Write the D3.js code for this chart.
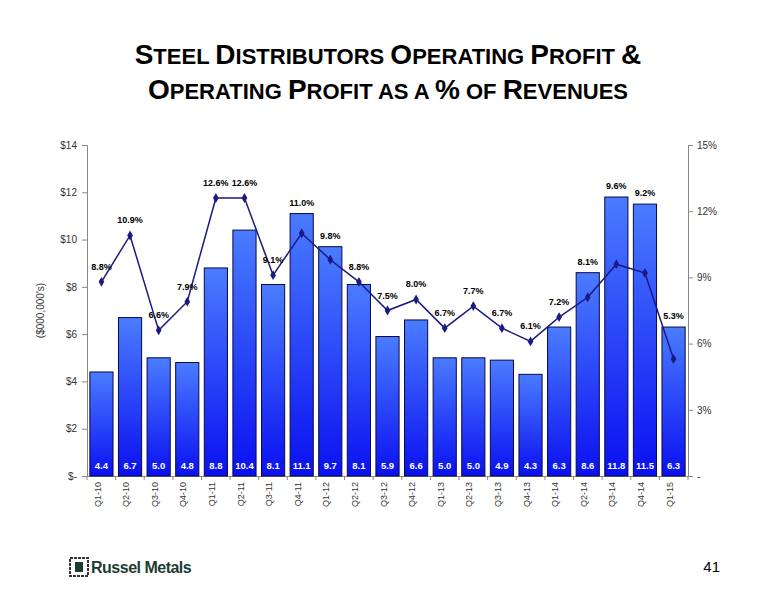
<!DOCTYPE html>
<html><head><meta charset="utf-8">
<script src="https://cdn.jsdelivr.net/npm/d3@7"></script>
<style>body{margin:0;background:#fff}</style>
</head><body><svg id="c" width="776" height="600"></svg>
<script>
const quarters = ["Q1-10","Q2-10","Q3-10","Q4-10","Q1-11","Q2-11","Q3-11","Q4-11","Q1-12","Q2-12","Q3-12","Q4-12","Q1-13","Q2-13","Q3-13","Q4-13","Q1-14","Q2-14","Q3-14","Q4-14","Q1-15"];
const profit = [4.4,6.7,5.0,4.8,8.8,10.4,8.1,11.1,9.7,8.1,5.9,6.6,5.0,5.0,4.9,4.3,6.3,8.6,11.8,11.5,6.3];
const margin = [8.8,10.9,6.6,7.9,12.6,12.6,9.1,11.0,9.8,8.8,7.5,8.0,6.7,7.7,6.7,6.1,7.2,8.1,9.6,9.2,5.3];
const leftTicks = [0,2,4,6,8,10,12,14];
const rightTicks = [0,3,6,9,12,15];

const svg = d3.select("#c");
const L = 87, R = 688, T = 145, B = 476;
const fnt = "Arial, Liberation Sans, sans-serif";

// title
const title = svg.append("g").attr("font-family",fnt).attr("font-weight","bold").attr("fill","#000").attr("text-anchor","middle");
function smallCaps(y, parts) {
  const t = title.append("text").attr("x", 388).attr("y", y);
  parts.forEach(p => t.append("tspan").attr("font-size", p[1] ? 28 : 22).text(p[0]));
}
smallCaps(64, [["S",1],["TEEL ",0],["D",1],["ISTRIBUTORS ",0],["O",1],["PERATING ",0],["P",1],["ROFIT ",0],["&",1]]);
smallCaps(99, [["O",1],["PERATING ",0],["P",1],["ROFIT AS A ",0],["%",1],[" OF ",0],["R",1],["EVENUES",0]]);

const x = d3.scaleBand().domain(quarters).range([L, R]).paddingInner(0.19).paddingOuter(0.1);
const y = d3.scaleLinear().domain([0, 14]).range([B, T]);
const y2 = d3.scaleLinear().domain([0, 15]).range([B, T]);

const defs = svg.append("defs");
const g = defs.append("linearGradient").attr("id","bg").attr("x1",0).attr("y1",0).attr("x2",0).attr("y2",1);
g.append("stop").attr("offset","0%").attr("stop-color","#4a7cff");
g.append("stop").attr("offset","100%").attr("stop-color","#0a10f0");

// axes
const ax = svg.append("g").attr("transform",`translate(${L},0)`)
  .call(d3.axisLeft(y).tickValues(leftTicks).tickSize(5).tickFormat(d => d === 0 ? "$-" : "$" + d));
const ax2 = svg.append("g").attr("transform",`translate(${R},0)`)
  .call(d3.axisRight(y2).tickValues(rightTicks).tickSize(5).tickFormat(d => d === 0 ? "-" : d + "%"));
const axb = svg.append("g").attr("transform",`translate(0,${B})`)
  .call(d3.axisBottom(x).tickSize(0).tickFormat(d => d));
[ax, ax2].forEach(a => {
  a.selectAll("path,line").attr("stroke","#888");
  a.selectAll("text").attr("font-family",fnt).attr("font-size",10).attr("fill","#333");
});
ax.selectAll("text").attr("x",-10);
ax2.selectAll("text").attr("x",9);
axb.select("path").attr("stroke","#888");
axb.selectAll("text").attr("font-family",fnt).attr("font-size",9).attr("fill","#333")
  .attr("transform","rotate(-90)").attr("text-anchor","end").attr("x",-6).attr("y",-4).attr("dy","0.35em");
svg.append("g").selectAll("line").data(d3.range(quarters.length + 1)).join("line")
  .attr("x1", i => L + i * (R - L) / quarters.length).attr("x2", i => L + i * (R - L) / quarters.length)
  .attr("y1", B).attr("y2", B + 4).attr("stroke","#888");

svg.append("text").attr("transform",`translate(44,${(T+B)/2}) rotate(-90)`).attr("text-anchor","middle")
  .attr("font-family",fnt).attr("font-size",10).attr("fill","#333").text("($000,000's)");

// bars
svg.append("g").selectAll("rect").data(profit).join("rect")
  .attr("x",(d,i)=>x(quarters[i])).attr("width",x.bandwidth())
  .attr("y",d=>y(d)).attr("height",d=>B-y(d))
  .attr("fill","url(#bg)").attr("stroke","#0a0a40").attr("stroke-width",1);
svg.append("g").selectAll("text").data(profit).join("text")
  .attr("x",(d,i)=>x(quarters[i])+x.bandwidth()/2).attr("y",B-7).attr("text-anchor","middle")
  .attr("font-family",fnt).attr("font-size",9.5).attr("font-weight","bold").attr("fill","#fff")
  .text(d=>d.toFixed(1));

// line
const cx = i => x(quarters[i]) + x.bandwidth()/2;
svg.append("path").datum(margin)
  .attr("d", d3.line().x((d,i)=>cx(i)).y(d=>y2(d)))
  .attr("fill","none").attr("stroke","#1a1a80").attr("stroke-width",1.5);
svg.append("g").selectAll("path").data(margin).join("path")
  .attr("d", d3.symbol(d3.symbolDiamond, 28))
  .attr("transform",(d,i)=>`translate(${cx(i)},${y2(d)})`).attr("fill","#1a1a80");
svg.append("g").selectAll("text").data(margin).join("text")
  .attr("x",(d,i)=>cx(i)).attr("y",(d,i)=>{
    const ly = y2(d) - 12, by = y(profit[i]);
    return by < y2(d) + 4 ? Math.min(ly, by - 8) : ly;
  }).attr("text-anchor","middle")
  .attr("font-family",fnt).attr("font-size",9).attr("font-weight","bold").attr("fill","#000")
  .text(d=>d.toFixed(1)+"%");

// logo & page number
const lg = svg.append("g").attr("transform","translate(70,558)");
lg.append("rect").attr("x",0).attr("y",0).attr("width",18).attr("height",18).attr("fill","none").attr("stroke","#333").attr("stroke-width",2).attr("stroke-dasharray","3,1");
lg.append("rect").attr("x",5).attr("y",4).attr("width",8).attr("height",10).attr("fill","#1e3b33");
lg.append("text").attr("x",21).attr("y",15).attr("font-family",fnt).attr("font-weight","bold").attr("font-size",16)
  .attr("fill","#1e3b33").attr("letter-spacing",-0.5).text("Russel Metals");
svg.append("text").attr("x",720).attr("y",572).attr("text-anchor","end").attr("font-family",fnt).attr("font-size",15).text("41");
</script></body></html>
